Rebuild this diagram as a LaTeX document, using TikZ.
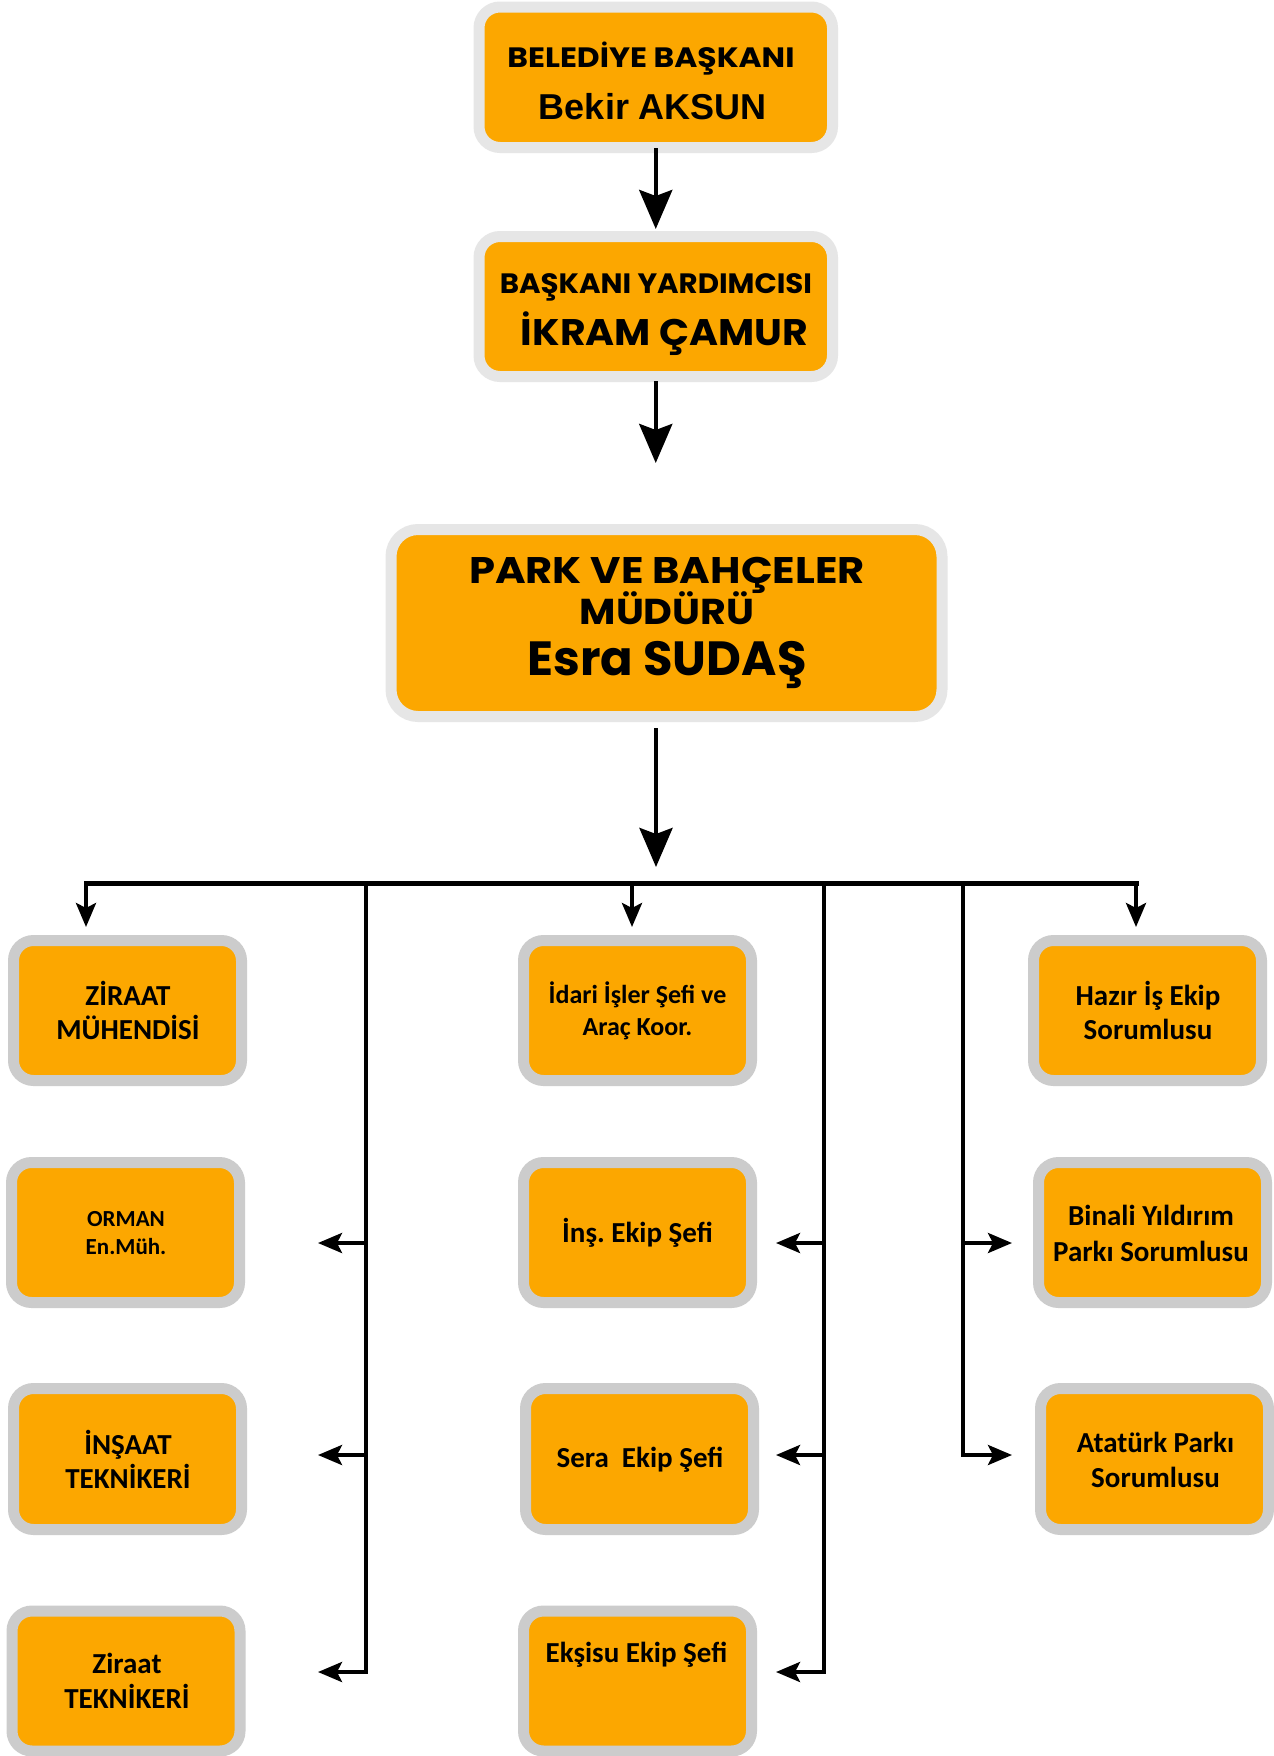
\documentclass[tikz,border=0pt]{standalone}
\usepackage{fontspec}
\usetikzlibrary{arrows.meta}
\newfontfamily\popf{Poppins}
\newfontfamily\libs{Liberation Sans}
\newfontfamily\carl{Carlito}
\definecolor{boxorange}{RGB}{252,167,0}
\definecolor{rimlight}{RGB}{230,230,230}
\definecolor{rimgray}{RGB}{204,204,204}
\frenchspacing
\begin{document}
\begin{tikzpicture}[x=1pt,y=-1pt,
  topbox/.style={rectangle, draw=rimlight, fill=boxorange, line width=11pt, rounded corners=21pt, inner sep=0pt},
  lowbox/.style={rectangle, draw=rimgray, fill=boxorange, line width=11pt, rounded corners=20pt, inner sep=0pt, minimum width=228pt, minimum height=140pt},
  popt/.style={anchor=base, inner sep=0pt, font=\popf\bfseries\fontsize{#1}{#1}\selectfont},
  popw/.style 2 args={anchor=base, inner sep=0pt, font=\popf\bfseries\addfontfeature{FakeStretch=#2}\fontsize{#1}{#1}\selectfont},
  libt/.style={anchor=base, inner sep=0pt, font=\libs\bfseries\fontsize{#1}{#1}\selectfont},
  calt/.style={anchor=base, inner sep=0pt, font=\carl\bfseries\fontsize{#1}{#1}\selectfont},
  bigarrow/.style={line width=4.5pt, -{Stealth[length=39pt,width=33pt,inset=6pt]}},
  smallarrow/.style={line width=4pt, -{Stealth[length=24pt,width=20pt,inset=5pt]}},
  wire/.style={line width=4pt, line cap=rect},
  buswire/.style={line width=5pt, line cap=rect}]
\useasboundingbox (0,0) rectangle (1274,1756);
\fill[white] (0,0) rectangle (1274,1756);

% top boxes
\node[topbox, minimum width=353.5pt, minimum height=140.5pt] (b1) at (655.75,77.25) {};
\node[topbox, minimum width=353.5pt, minimum height=140pt] (b2) at (655.75,306.5) {};
\node[topbox, rounded corners=27pt, minimum width=551pt, minimum height=187pt] (d) at (666.5,623) {};

\node[popw={28}{1.12}] (t1a) at (651,67) {BELEDİYE BAŞKANI};
\node[libt=36] (t1b) at (653,119) {Bekir AKSUN};
\node[popw={28}{1.045}] (t2a) at (656,293) {BAŞKANI YARDIMCISI};
\node[popw={37}{1.065}] (t2b) at (664.5,345) {İKRAM ÇAMUR};
\node[popw={37}{1.125}] (t3a) at (667,583) {PARK VE BAHÇELER};
\node[popw={36}{1.1}] (t3b) at (667,624) {MÜDÜRÜ};
\node[popt=48] (t3c) at (667,675) {Esra SUDAŞ};

% lower boxes
\node[lowbox] (z1) at (127.5,1010.5) {};
\node[lowbox] (z2) at (125.5,1232.5) {};
\node[lowbox, minimum height=141pt] (z3) at (127.5,1459) {};
\node[lowbox] (z4) at (126,1681) {};
\node[lowbox] (m1) at (637.5,1010.5) {};
\node[lowbox] (m2) at (637.5,1232.5) {};
\node[lowbox, minimum height=141pt] (m3) at (639.5,1459) {};
\node[lowbox] (m4) at (637.5,1681) {};
\node[lowbox] (r1) at (1147.5,1010.5) {};
\node[lowbox] (r2) at (1152.5,1232.5) {};
\node[lowbox, minimum height=141pt] (r3) at (1154.5,1459) {};

\node[calt=29] (z1a) at (128,1005) {ZİRAAT};
\node[calt=29] (z1b) at (128,1039) {MÜHENDİSİ};
\node[calt=23] (z2a) at (126,1226) {ORMAN};
\node[calt=23] (z2b) at (126,1254) {En.Müh.};
\node[calt=29] (z3a) at (128,1454) {İNŞAAT};
\node[calt=29] (z3b) at (128,1488) {TEKNİKERİ};
\node[calt=29] (z4a) at (127,1673) {Ziraat};
\node[calt=29] (z4b) at (127,1708) {TEKNİKERİ};
\node[calt=26] (m1a) at (637.5,1003) {İdari İşler Şefi ve};
\node[calt=26] (m1b) at (637.5,1035) {Araç Koor.};
\node[calt=29] (m2a) at (637.5,1242) {İnş. Ekip Şefi};
\node[calt=29] (m3a) at (640,1467) {Sera\ \ Ekip Şefi};
\node[calt=29] (m4a) at (636.5,1662) {Ekşisu Ekip Şefi};
\node[calt=29] (r1a) at (1148,1005) {Hazır İş Ekip};
\node[calt=29] (r1b) at (1148,1039) {Sorumlusu};
\node[calt=29] (r2a) at (1151,1225) {Binali Yıldırım};
\node[calt=29] (r2b) at (1151,1261) {Parkı Sorumlusu};
\node[calt=29] (r3a) at (1155.5,1452) {Atatürk Parkı};
\node[calt=29] (r3b) at (1155.5,1487) {Sorumlusu};

% top arrows
\draw[bigarrow, shorten <=-5pt, shorten >=2pt] (b1.south) -- (b2.north);
\coordinate (a2e) at (655.75,463);
\draw[bigarrow, shorten <=-1pt] (b2.south) -- (a2e);
\coordinate (a3e) at (656,867);
\draw[bigarrow, shorten <=6pt] (d.south -| a3e) -- (a3e);

% bus
\coordinate (busL) at (86,883);
\coordinate (busM) at (632,883);
\coordinate (busR) at (1136,883);
\draw[buswire] (busL) -- (busR);
\draw[smallarrow, shorten >=8pt] (busL) -- (busL |- z1.north);
\draw[smallarrow, shorten >=8pt] (busM) -- (busM |- m1.north);
\draw[smallarrow, shorten >=8pt] (busR) -- (busR |- r1.north);

% vertical distribution lines
\coordinate (vLt) at (366,883);  \coordinate (vLb) at (366,1672);
\coordinate (vMt) at (824,883);  \coordinate (vMb) at (824,1672);
\coordinate (vRt) at (963,883);  \coordinate (vRb) at (963,1455);
\draw[wire] (vLt) -- (vLb);
\draw[wire] (vMt) -- (vMb);
\draw[wire] (vRt) -- (vRb);

% left column arrows
\coordinate (L2) at (366,1243); \coordinate (L2t) at (318,1243);
\coordinate (L3) at (366,1455); \coordinate (L3t) at (318,1455);
\coordinate (L4t) at (318,1672);
\draw[smallarrow] (L2) -- (L2t);
\draw[smallarrow] (L3) -- (L3t);
\draw[smallarrow] (vLb) -- (L4t);

% middle column arrows
\coordinate (M2) at (824,1243); \coordinate (M2t) at (776,1243);
\coordinate (M3) at (824,1455); \coordinate (M3t) at (776,1455);
\coordinate (M4t) at (776,1672);
\draw[smallarrow] (M2) -- (M2t);
\draw[smallarrow] (M3) -- (M3t);
\draw[smallarrow] (vMb) -- (M4t);

% right column arrows
\coordinate (R2) at (963,1243); \coordinate (R2t) at (1012,1243);
\coordinate (R3t) at (1012,1455);
\draw[smallarrow] (R2) -- (R2t);
\draw[smallarrow] (vRb) -- (R3t);
\end{tikzpicture}
\end{document}
